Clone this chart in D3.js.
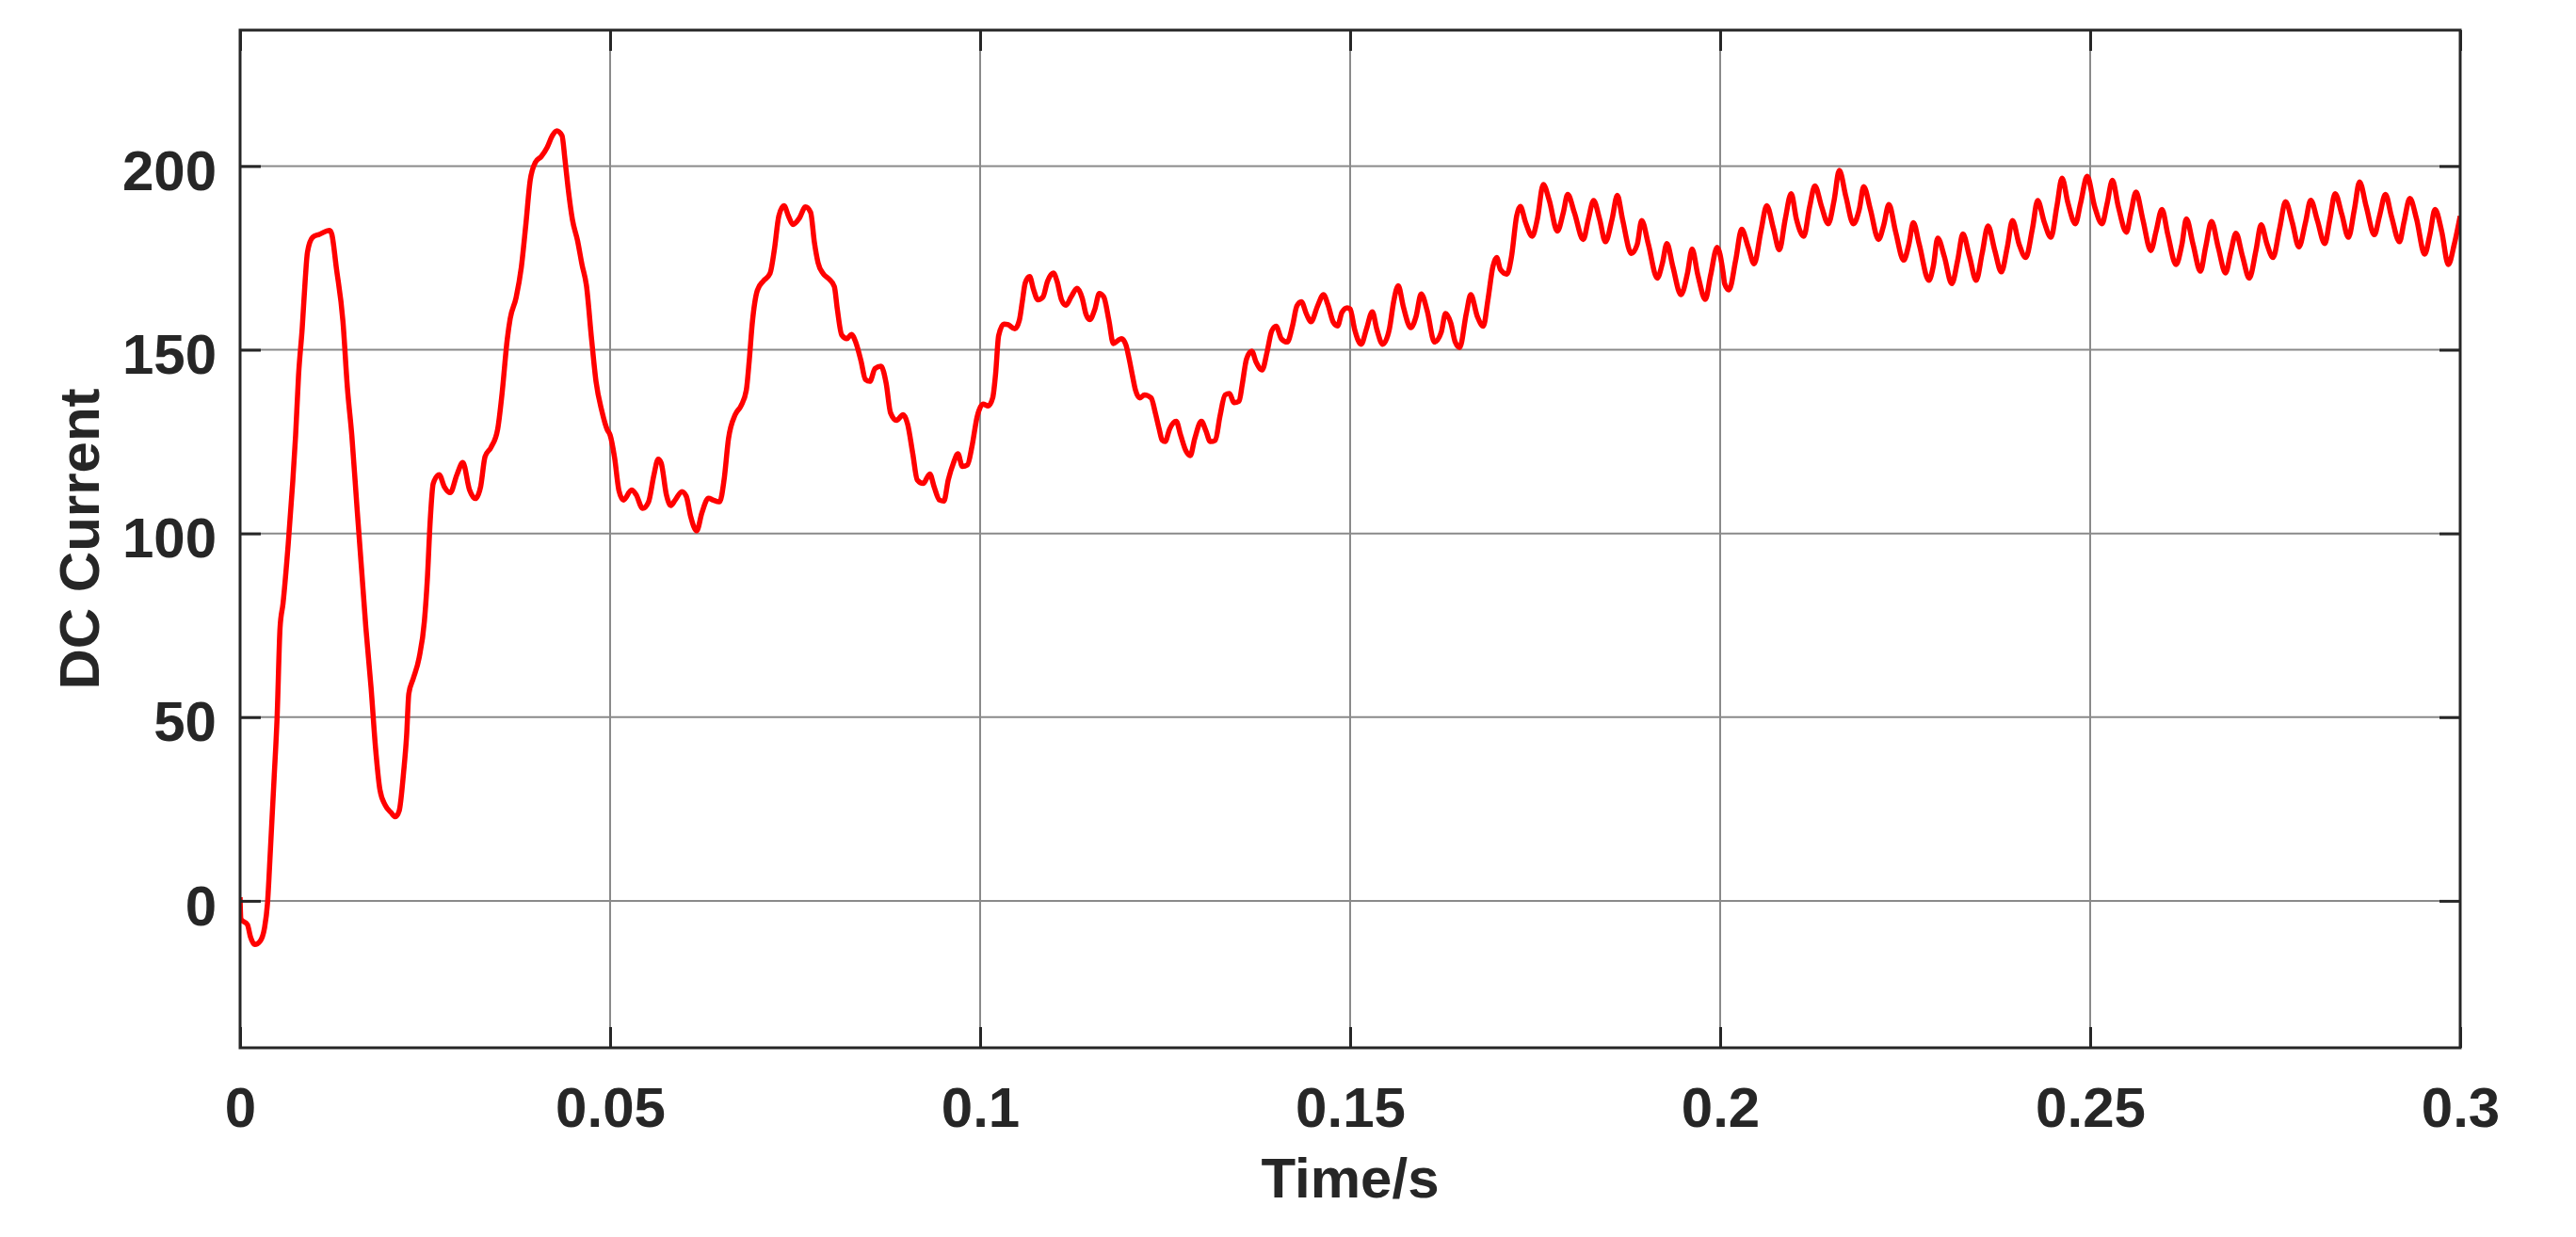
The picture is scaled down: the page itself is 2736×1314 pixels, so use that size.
<!DOCTYPE html>
<html>
<head>
<meta charset="utf-8">
<script src="https://cdn.jsdelivr.net/npm/d3@7"></script>
<style>
  html, body { margin: 0; padding: 0; background: #ffffff; }
  svg { display: block; }
</style>
</head>
<body>
<svg id="chart" width="2736" height="1314"></svg>
<script>
// ---- data: [time in ms, DC current] ----
const seg0to50 = [[0,1],[0.1,-4.9],[1.0,-6.5],[1.4,-9.8],[2.0,-11.9],[2.7,-11],[3.3,-7.4],[3.7,-0.8],[4.1,13.9],[4.6,33.5],[5.0,49.8],[5.4,74.3],[5.8,80.9],[6.5,97],[7.1,113.6],[7.5,126.6],[7.9,143],[8.4,156],[8.8,169],[9.1,176.5],[9.8,180.6],[10.7,181.4],[12.1,182.5],[12.4,181.4],[13.0,172.4],[13.9,157.7],[14.5,139.7],[15.1,126.6],[15.8,107],[16.4,90.7],[17.0,74.3],[17.7,58],[18.3,41.7],[18.9,30.2],[19.6,26.1],[20.4,24],[21.0,22.9],[21.5,24.5],[22.1,35.1],[22.5,44.9],[22.8,56.4],[23.4,60.5],[24.2,66.2],[24.9,76],[25.3,87.4],[25.7,103.8],[26.1,113.6],[26.9,116],[27.6,112.7],[28.4,111.1],[29.3,116],[30.1,119.3],[31.0,111.9],[31.8,109.5],[32.5,112.7],[33.1,120.9],[33.9,123.4],[34.8,128.3],[35.4,138.1],[36.1,152.8],[36.5,158.5],[37.3,164.2],[38.0,172.4],[38.6,183.8],[39.2,196.1],[39.9,201],[40.7,202.6],[41.5,205.1],[42.2,208.3],[42.8,209.6],[43.5,208.3],[43.9,201.8],[44.3,194.4],[44.9,185.5],[45.6,179.7],[46.2,173.2],[46.8,167.5],[47.5,152.8],[48.1,141.3],[48.9,133.2],[49.6,128.3]];

const seg50to100 = [[50,126.8],[50.6,120.7],[51.2,111.6],[51.8,109.1],[52.9,111.8],[53.5,110.6],[54.4,106.8],[55.2,108.6],[55.9,115.7],[56.5,120.2],[56.9,119.2],[57.6,110.6],[58.2,107.6],[58.8,109.1],[59.7,111.4],[60.3,110.1],[60.9,104.5],[61.7,100.7],[62.4,105.6],[63.3,109.6],[63.9,109.1],[64.8,108.6],[65.4,114.6],[66.0,125.8],[66.9,132.3],[67.7,134.8],[68.4,138.9],[68.8,147],[69.2,157],[69.9,166.2],[70.7,168.7],[71.6,170.7],[72.2,177.3],[72.8,186.4],[73.5,189.2],[74.1,186.4],[74.7,184.1],[75.6,185.9],[76.4,188.9],[77.1,187.4],[77.6,179.3],[78.1,173.7],[78.8,170.7],[79.6,169.2],[80.3,167.2],[80.7,161.1],[81.3,154],[82.0,153],[82.6,154.2],[83.2,152],[83.9,147],[84.5,141.9],[85.1,141.4],[85.8,144.9],[86.6,145.5],[87.3,140.9],[87.9,132.8],[88.7,130.8],[89.6,132.3],[90.2,129.8],[90.9,121.7],[91.5,114.6],[92.3,113.6],[93.2,116.2],[93.8,112.6],[94.5,109.1],[95.1,108.8],[95.7,114.6],[96.4,119.2],[97,121.7],[97.6,118.2],[98.3,118.7],[98.9,123.7],[99.6,131.8]];

const seg100to150 = [[100.4,135.2],[101.1,134.7],[101.7,136.9],[102.1,143.6],[102.5,153.8],[103.2,157],[103.8,156.8],[104.7,155.7],[105.3,158],[105.7,163.1],[106.1,168.2],[106.7,169.9],[107.2,166.5],[107.8,163.6],[108.5,164.4],[109.1,168.6],[109.9,170.9],[110.4,168.6],[111.0,163.6],[111.6,162.1],[112.3,164.4],[113.1,166.7],[113.8,164],[114.3,159.7],[114.8,158.2],[115.5,161],[116.1,165.3],[116.7,164.4],[117.4,158],[118,151.7],[118.6,152.5],[119.1,153],[119.7,151.3],[120.1,147.9],[120.6,142.8],[121,139],[121.6,136.9],[122.2,137.7],[123.1,136.9],[123.7,132.6],[124.2,128.4],[124.6,125.4],[125,125],[125.6,128.4],[126.5,130.5],[127.1,126.7],[127.8,122.5],[128.4,121.2],[129,125.8],[129.9,130.5],[130.5,128],[131.1,125],[131.8,125.4],[132.4,131.8],[133.1,137.7],[133.7,138.1],[134.3,135.6],[135,136],[135.4,140.3],[136,147.5],[136.7,149.6],[137.3,146.6],[138.1,144.5],[138.8,149.6],[139.4,155.1],[140,156.4],[140.7,153],[141.5,152.1],[142.2,156.4],[142.8,161.9],[143.4,163.1],[144.1,159.7],[144.7,157.6],[145.6,161.9],[146.4,165],[147,162.3],[147.7,157.6],[148.3,156.5],[148.9,160.2],[149.6,161.4]];

const seg150to200 = [[150,161.1],[150.6,155.6],[151.5,151.5],[152.2,155.6],[153,160.3],[153.6,155.6],[154.4,151.5],[155.3,155.6],[155.9,163.3],[156.5,167.4],[157.2,161.6],[158.2,156],[158.9,159],[159.6,165.2],[160.4,160.7],[161.4,152.1],[162.3,154.7],[162.9,159.9],[163.6,157.3],[164.2,152.1],[164.8,150.6],[165.7,159.9],[166.3,165],[167.2,159],[168,156.4],[168.6,163.3],[169.3,172.7],[169.8,175.1],[170.3,171.9],[171.2,170.6],[171.8,175.3],[172.5,186.4],[173,189],[173.7,184.7],[174.6,180.9],[175.3,185.6],[176.1,195],[176.9,190.7],[178,182.3],[178.8,187.3],[179.4,192.3],[180.3,187.3],[181.5,180],[182.2,185.6],[182.9,190.6],[183.7,185.6],[184.5,179.4],[185.4,185.6],[186.1,192],[186.8,185.6],[188,176.2],[188.8,178.7],[189.4,185.2],[190.3,178.7],[191.5,169.5],[192.2,173.6],[192.8,178.9],[193.6,172.7],[194.7,165],[195.6,171],[196.2,177.4],[197,170.2],[198,163.7],[198.7,170.2],[199.6,177.9],[200.4,171]];

const seg200to250 = [[200.6,168],[201.2,166.3],[202.1,174.4],[202.9,182.8],[203.8,177.9],[204.6,173.4],[205.5,182.2],[206.3,189.2],[207.2,183],[208,177.2],[208.8,185.6],[209.6,192.5],[210.3,185.6],[211.3,180.9],[212.1,189],[212.8,194.6],[213.7,189],[214.6,184.3],[215.4,190.7],[216.1,198.8],[217,191.6],[218,184.3],[218.8,188.2],[219.4,194.4],[220.3,188.2],[221.4,180],[222.1,183.9],[222.8,189.5],[223.7,182.2],[224.8,174.4],[225.5,178.7],[226.1,184.6],[226.9,178.7],[228.2,168.9],[228.8,172.7],[229.4,180.4],[230.3,175.3],[231.3,168],[232.1,174.4],[232.8,181.5],[233.7,175.3],[234.6,168.9],[235.4,176.2],[236.2,183.7],[237.1,177.1],[238,171.2],[238.8,177.9],[239.5,185.2],[240.4,178.7],[241.3,175.1],[242.2,183],[242.9,190.6],[243.8,184.7],[244.7,180.6],[245.5,189],[246.2,196.7],[247,189.9],[248,184.3],[248.7,189.9],[249.6,197.2]];

const seg250to300 = [[250.6,189],[251.6,184.3],[252.3,189.9],[253,196.1],[253.8,189],[254.9,182],[255.5,187.3],[256.2,192.9],[257.1,185.6],[258.2,177],[258.9,182.2],[259.7,188.2],[260.5,181.3],[261.6,173.2],[262.4,178.7],[263,185.6],[263.9,178.7],[264.9,171.4],[265.6,177.9],[266.4,184.9],[267.3,177.9],[268.3,170.9],[269,176.6],[269.7,181.7],[270.6,175.3],[271.5,169.5],[272.4,177],[273.1,184],[273.9,178.7],[274.7,175.1],[275.6,183],[276.4,190.3],[277.3,184.7],[278.2,178],[279.1,184.7],[279.8,190.7],[280.7,185.2],[281.7,178.9],[282.4,185.6],[283.1,192.5],[284,186.9],[284.9,180.6],[285.7,188.2],[286.4,195.7],[287.3,189],[288.4,181.3],[289.1,186.4],[289.9,192.3],[290.7,186.4],[291.8,179.4],[292.4,184.7],[293.2,191.2],[294.1,185.6],[295.2,176],[295.9,181.3],[296.6,188.2],[297.5,182.2],[298.4,173.2],[299.2,178.7],[300,186.4]];

const xTicks = [0, 0.05, 0.1, 0.15, 0.2, 0.25, 0.3];
const xTickLabels = ["0", "0.05", "0.1", "0.15", "0.2", "0.25", "0.3"];
const yTicks = [0, 50, 100, 150, 200];
const yTickLabels = ["0", "50", "100", "150", "200"];
const xTitle = "Time/s";
const yTitle = "DC Current";

// ---- layout ----
const pLeft = 255, pRight = 2613, pTop = 32, pBottom = 1113;
const textColor = "#262626";
const fontFam = "'Liberation Sans', Arial, Helvetica, sans-serif";

const svg = d3.select("#chart");
svg.append("rect").attr("width", 2736).attr("height", 1314).attr("fill", "#fff");

const x = d3.scaleLinear().domain([0, 0.3]).range([pLeft, pRight]);
const y = d3.scaleLinear().domain([-40, 237]).range([pBottom, pTop]);

// grid
const grid = svg.append("g");
grid.selectAll("line.gx").data(xTicks.slice(1, -1)).join("line")
  .attr("class", "gx")
  .attr("x1", d => x(d)).attr("x2", d => x(d))
  .attr("y1", pTop).attr("y2", pBottom)
  .attr("stroke", "#8a8a8a").attr("stroke-width", 2);
grid.selectAll("line.gy").data(yTicks).join("line")
  .attr("class", "gy")
  .attr("x1", pLeft).attr("x2", pRight)
  .attr("y1", d => y(d)).attr("y2", d => y(d))
  .attr("stroke", "#8a8a8a").attr("stroke-width", 2);

// data line
const data = [].concat(seg0to50, seg50to100, seg100to150, seg150to200, seg200to250, seg250to300)
  .map(d => ({t: d[0] / 1000, v: d[1]}));
const line = d3.line().x(d => x(d.t)).y(d => y(d.v)).curve(d3.curveMonotoneX);
svg.append("defs").append("clipPath").attr("id", "clip")
  .append("rect").attr("x", pLeft).attr("y", pTop).attr("width", pRight - pLeft).attr("height", pBottom - pTop);
svg.append("path").datum(data)
  .attr("clip-path", "url(#clip)")
  .attr("d", line)
  .attr("fill", "none")
  .attr("stroke", "#ff0000")
  .attr("stroke-width", 5.5)
  .attr("stroke-linejoin", "round");

// axes using d3 axis generators (ticks inward, all four sides)
const tickLen = 22;
const axBottom = d3.axisBottom(x).tickValues(xTicks).tickSizeInner(-tickLen).tickSizeOuter(0)
  .tickFormat((d, i) => xTickLabels[i]);
const axTop = d3.axisTop(x).tickValues(xTicks).tickSizeInner(-tickLen).tickSizeOuter(0).tickFormat("");
const axLeft = d3.axisLeft(y).tickValues(yTicks).tickSizeInner(-tickLen).tickSizeOuter(0)
  .tickFormat((d, i) => yTickLabels[i]);
const axRight = d3.axisRight(y).tickValues(yTicks).tickSizeInner(-tickLen).tickSizeOuter(0).tickFormat("");

function styleAxis(g) {
  g.select(".domain").remove();
  g.selectAll(".tick line").attr("stroke", textColor).attr("stroke-width", 3);
  g.selectAll(".tick text").attr("fill", textColor)
    .style("font-family", fontFam).style("font-weight", "bold").style("font-size", "60px");
}
const gB = svg.append("g").attr("transform", `translate(0,${pBottom})`).call(axBottom).call(styleAxis);
gB.selectAll(".tick text").attr("dy", null).attr("y", 1197 - pBottom);
svg.append("g").attr("transform", `translate(0,${pTop})`).call(axTop).call(styleAxis);
const gL = svg.append("g").attr("transform", `translate(${pLeft},0)`).call(axLeft).call(styleAxis);
gL.selectAll(".tick text").attr("x", 230 - pLeft).attr("dy", "0.42em");
svg.append("g").attr("transform", `translate(${pRight},0)`).call(axRight).call(styleAxis);

// box
svg.append("rect")
  .attr("x", pLeft).attr("y", pTop).attr("width", pRight - pLeft).attr("height", pBottom - pTop)
  .attr("fill", "none").attr("stroke", textColor).attr("stroke-width", 3);

// titles
svg.append("text").text(xTitle)
  .attr("x", (pLeft + pRight) / 2).attr("y", 1272)
  .attr("text-anchor", "middle").attr("fill", textColor)
  .style("font-family", fontFam).style("font-weight", "bold").style("font-size", "60px");
svg.append("text").text(yTitle)
  .attr("transform", `translate(105,${(pTop + pBottom) / 2}) rotate(-90)`)
  .attr("text-anchor", "middle").attr("fill", textColor)
  .style("font-family", fontFam).style("font-weight", "bold").style("font-size", "60px");
</script>
</body>
</html>
